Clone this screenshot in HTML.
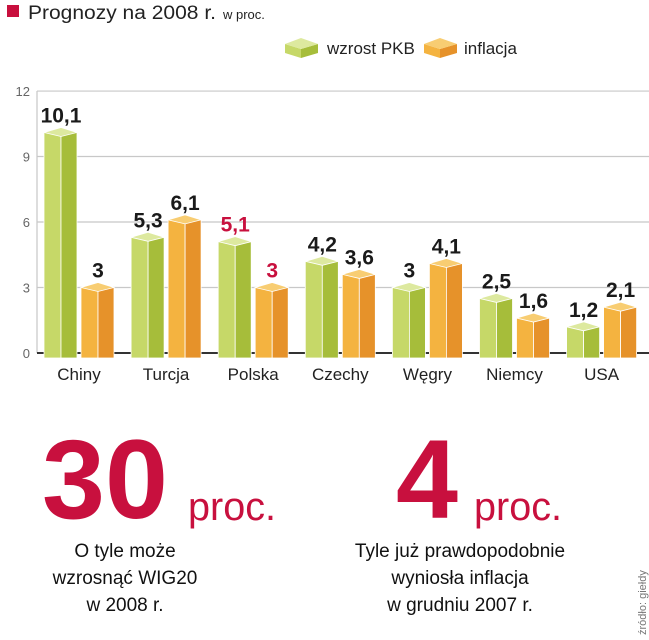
<!DOCTYPE html>
<html><head><meta charset="utf-8">
<style>
body{margin:0;background:#fff;width:649px;height:640px;overflow:hidden;font-family:"Liberation Sans",sans-serif;}
svg{position:absolute;left:0;top:0;}
</style></head>
<body>
<svg width="649" height="640">
<g id="hdr">
<rect x="7" y="5" width="12" height="12" fill="#c8103e"/>
<text x="28" y="19" font-size="19" fill="#222" textLength="188" lengthAdjust="spacingAndGlyphs">Prognozy na 2008 r.</text>
<text x="223" y="19" font-size="13" fill="#222">w proc.</text>
</g>
<g id="legend"></g>
<g id="grid"></g>
<g id="bars"></g>
<g id="bottom">
<text x="42" y="518" font-size="112" font-weight="bold" fill="#c8103e" textLength="126" lengthAdjust="spacingAndGlyphs">30</text>
<text x="188" y="520" font-size="40" fill="#c8103e" textLength="88" lengthAdjust="spacingAndGlyphs">proc.</text>
<text x="125" y="557" font-size="19" fill="#111" text-anchor="middle">O tyle może</text>
<text x="125" y="584" font-size="19" fill="#111" text-anchor="middle">wzrosnąć WIG20</text>
<text x="125" y="611" font-size="19" fill="#111" text-anchor="middle">w 2008 r.</text>
<text x="396" y="518" font-size="112" font-weight="bold" fill="#c8103e" textLength="62" lengthAdjust="spacingAndGlyphs">4</text>
<text x="474" y="520" font-size="40" fill="#c8103e" textLength="88" lengthAdjust="spacingAndGlyphs">proc.</text>
<text x="460" y="557" font-size="19" fill="#111" text-anchor="middle">Tyle już prawdopodobnie</text>
<text x="460" y="584" font-size="19" fill="#111" text-anchor="middle">wyniosła inflacja</text>
<text x="460" y="611" font-size="19" fill="#111" text-anchor="middle">w grudniu 2007 r.</text>
<text transform="translate(646,635) rotate(-90)" font-size="11" fill="#777">źródło: giełdy</text>
</g>
</svg>
<script>
const categories=["Chiny","Turcja","Polska","Czechy","Węgry","Niemcy","USA"];
const gdp=[10.1,5.3,5.1,4.2,3,2.5,1.2];
const inflation=[3,6.1,3,3.6,4.1,1.6,2.1];
const gdpLabels=["10,1","5,3","5,1","4,2","3","2,5","1,2"];
const infLabels=["3","6,1","3","3,6","4,1","1,6","2,1"];
const yTicks=[0,3,6,9,12];
const NS="http://www.w3.org/2000/svg";
function y(v){return 353-v*21.83;}
function gx(i){return 44+i*87.1;}
function mk(tag,attrs,parent){const e=document.createElementNS(NS,tag);for(const k in attrs)e.setAttribute(k,attrs[k]);parent.appendChild(e);return e;}
const grid=document.getElementById('grid'),bars=document.getElementById('bars'),leg=document.getElementById('legend');
mk('line',{x1:37,y1:91,x2:37,y2:353,stroke:'#bbb','stroke-width':1},grid);
yTicks.forEach(t=>{
  const l=mk('line',{x1:37,x2:649,y1:y(t),y2:y(t),stroke:t===0?'#333':'#c8c8c8','stroke-width':t===0?2:1.2},grid);
  
  
  const tx=mk('text',{x:30,y:y(t)+5,'font-size':13,fill:'#666','text-anchor':'end'},grid);
  tx.textContent=t;
  
  
});
const G={top:'#dde99f',front:'#c6d868',side:'#a6bd3a'};
const O={top:'#f8cd72',front:'#f4b340',side:'#e6922a'};
function bar(x,v,c,name){
  const g=mk('g',{},bars);
  
  
  const yt=y(v),yb=358,fw=17,sw=16;
  mk('rect',{x:x,y:yt,width:fw,height:yb-yt,fill:c.front,stroke:'#fff','stroke-width':0.8},g);
  mk('rect',{x:x+fw,y:yt,width:sw,height:yb-yt,fill:c.side,stroke:'#fff','stroke-width':0.8},g);
  mk('polygon',{points:`${x},${yt} ${x+fw},${yt+4} ${x+fw+sw},${yt} ${x+fw},${yt-5}`,fill:c.top,stroke:'#fff','stroke-width':0.8},g);
}
categories.forEach((c,i)=>{
  const x=gx(i);
  bar(x,gdp[i],G,'bar-gdp-'+i);
  bar(x+37,inflation[i],O,'bar-inflation-'+i);
  const red=c==='Polska';
  const t1=mk('text',{x:x+17,y:y(gdp[i])-10,'font-size':21,'font-weight':'bold',fill:red?'#c8103e':'#1a1a1a','text-anchor':'middle'},bars);
  t1.textContent=gdpLabels[i];
  
  
  const t2=mk('text',{x:x+54,y:y(inflation[i])-10,'font-size':21,'font-weight':'bold',fill:red?'#c8103e':'#1a1a1a','text-anchor':'middle'},bars);
  t2.textContent=infLabels[i];
  
  
  const cl=mk('text',{x:x+35,y:380,'font-size':17,fill:'#222','text-anchor':'middle'},bars);
  cl.textContent=c;
  
  
});
function cube(x,c,name){
  const g=mk('g',{},leg);
  
  
  mk('polygon',{points:`${x},44 ${x+16},49 ${x+16},58 ${x},53`,fill:c.front},g);
  mk('polygon',{points:`${x+16},49 ${x+33},44 ${x+33},53 ${x+16},58`,fill:c.side},g);
  mk('polygon',{points:`${x},44 ${x+16},38 ${x+33},44 ${x+16},49`,fill:c.top},g);
}
cube(285,G,'legend-gdp-swatch');
cube(424,O,'legend-inflation-swatch');
const l1=mk('text',{x:327,y:54,'font-size':17,fill:'#222'},leg);
l1.textContent='wzrost PKB';


const l2=mk('text',{x:464,y:54,'font-size':17,fill:'#222'},leg);
l2.textContent='inflacja';


</script>
</body></html>
